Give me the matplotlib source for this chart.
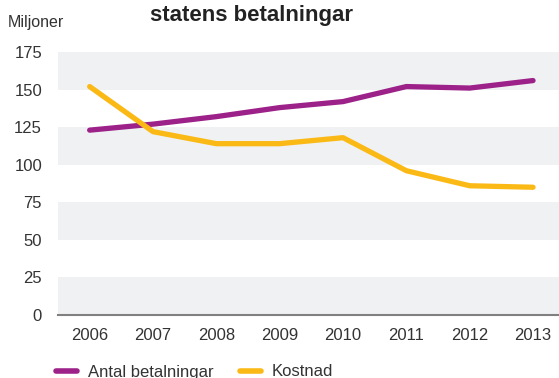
import matplotlib
matplotlib.use("Agg")
import matplotlib.pyplot as plt
from matplotlib.lines import Line2D

plt.rcParams['font.family'] = ['Liberation Sans', 'DejaVu Sans']

years = [2006, 2007, 2008, 2009, 2010, 2011, 2012, 2013]
antal = [123, 127, 132, 138, 142, 152, 151, 156]
kostnad = [152, 122, 114, 114, 118, 96, 86, 85]
yticks = [0, 25, 50, 75, 100, 125, 150, 175]
series_names = ["Antal betalningar", "Kostnad"]

purple = "#9c2188"
yellow = "#fbb916"
band = "#f0f1f3"
txt = "#333333"

fig = plt.figure(figsize=(5.59, 3.78), dpi=100)
ax = fig.add_axes([58/559, 1-315/378, 1-58/559, (315-52)/378])

for lo in [0, 50, 100, 150]:
    ax.axhspan(lo, lo+25, color=band, lw=0, zorder=0)

ax.plot(years, antal, color=purple, lw=3.8, solid_capstyle='round', solid_joinstyle='round', zorder=3)
ax.plot(years, kostnad, color=yellow, lw=3.8, solid_capstyle='round', solid_joinstyle='round', zorder=3)

ax.set_xlim(2005.5, 2013.41)
ax.set_ylim(0, 175)
ax.set_yticks(yticks)
ax.set_xticks(years)
ax.set_xticklabels([str(y) for y in years])
for s in ['top', 'right', 'left']:
    ax.spines[s].set_visible(False)
ax.spines['bottom'].set_color('#808080')
ax.spines['bottom'].set_linewidth(1.5)
ax.tick_params(axis='both', length=0, labelsize=12, colors=txt)
ax.tick_params(axis='y', pad=11.5)
ax.tick_params(axis='x', pad=9)
ax.patch.set_alpha(0)

fig.text(8/559, 1-22/378, "Miljoner", fontsize=11.5, color=txt, va='center', ha='left')
fig.text(252/559, 1-15/378, "statens betalningar", fontsize=16, fontweight='bold', color='#222222', va='center', ha='center')

handles = [Line2D([0], [0], color=purple, lw=4, solid_capstyle='round'),
           Line2D([0], [0], color=yellow, lw=4, solid_capstyle='round')]
fig.legend(handles, series_names, loc='center left', bbox_to_anchor=(51/559, 1-372/378), ncol=2,
           frameon=False, fontsize=12, handlelength=1.25, columnspacing=1.6, handletextpad=0.65,
           labelcolor=txt, borderaxespad=0, borderpad=0.3)

fig.savefig("out.png", dpi=100)
